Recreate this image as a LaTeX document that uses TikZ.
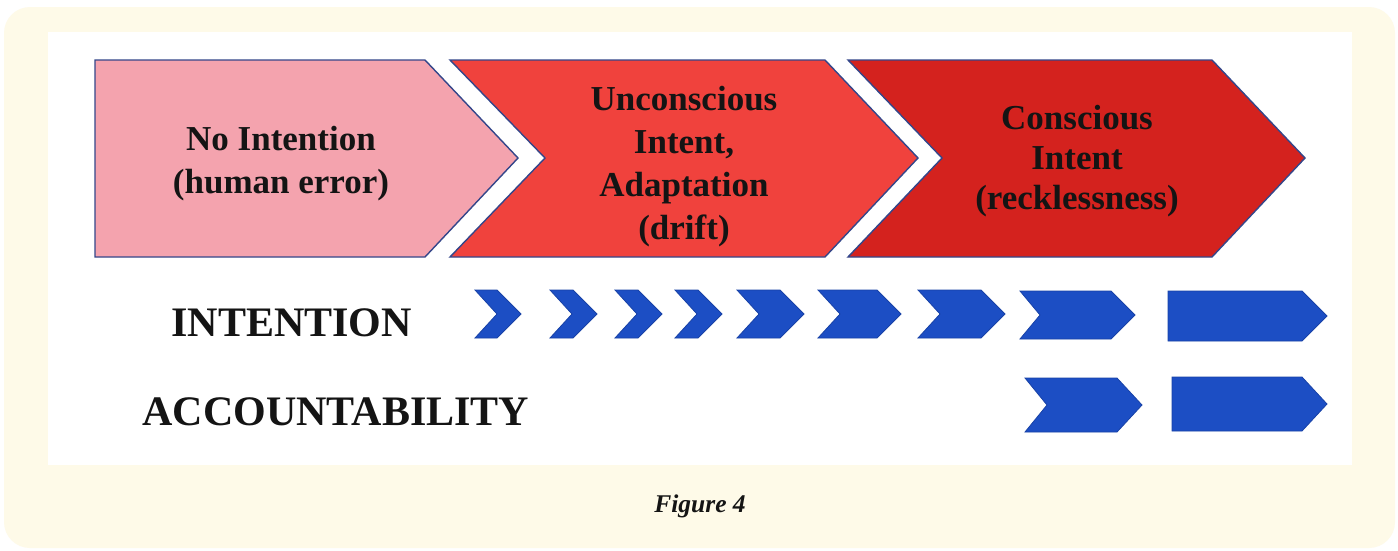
\documentclass[tikz,border=0pt]{standalone}
\usepackage{fontspec}
\setmainfont{Liberation Serif}
\definecolor{cream}{RGB}{254,250,232}
\definecolor{chevline}{RGB}{52,70,138}
\definecolor{pinkfill}{RGB}{244,163,174}
\definecolor{redfill}{RGB}{240,66,61}
\definecolor{darkred}{RGB}{212,34,30}
\definecolor{arrowblue}{RGB}{28,78,196}
\tikzset{
  chev/.style={draw=chevline, line width=1.4pt, line join=miter},
  bluearrow/.style={fill=arrowblue, draw=arrowblue!85!black, line width=0.8pt, line join=miter},
  stagetext/.style={font=\bfseries\fontsize{35}{43}\selectfont, align=center, text=black!92},
  rowlabel/.style={font=\bfseries\fontsize{42}{48}\selectfont, text=black!92, anchor=west},
}
% arrow: left x, tip x, centre y, half height, notch depth, point depth
\newcommand{\pointer}[6]{%
  \path[bluearrow] (#1,#3-#4) -- (#2-#6,#3-#4) -- (#2,#3) -- (#2-#6,#3+#4)
    -- (#1,#3+#4) -- (#1+#5,#3) -- cycle;}
\begin{document}
\begin{tikzpicture}[x=1pt,y=-1pt]
  \useasboundingbox[fill=white] (0,0) rectangle (1398,550);
  % page frame
  \fill[cream, rounded corners=26pt] (4,7) rectangle (1395,548);
  \fill[white] (48,32) rectangle (1352,465);

  % stage chevrons
  \path[chev, fill=pinkfill] (95,60) -- (425,60) -- (518,158) -- (425,257) -- (95,257) -- cycle;
  \path[chev, fill=redfill] (450,60) -- (825,60) -- (918,158) -- (825,257) -- (450,257) -- (545,158) -- cycle;
  \path[chev, fill=darkred] (848,60) -- (1212,60) -- (1305,158) -- (1212,257) -- (848,257) -- (942,158) -- cycle;

  \node[stagetext] (s1) at (281,164) {No Intention\\(human error)};
  \node[stagetext] (s2) at (684,167) {Unconscious\\Intent,\\Adaptation\\(drift)};
  \node[stagetext, font=\bfseries\fontsize{35}{40}\selectfont] (s3) at (1077,161) {Conscious\\Intent\\(recklessness)};

  % row labels
  \node[rowlabel] (intention) at (168,323) {INTENTION};
  \node[rowlabel] (account) at (139,412) {ACCOUNTABILITY};

  % intention row
  \pointer{475}{521}{314}{24}{22}{24}
  \pointer{550}{597}{314}{24}{22}{24}
  \pointer{615}{662}{314}{24}{22}{24}
  \pointer{675}{722}{314}{24}{22}{24}
  \pointer{737}{804}{314}{24}{22}{24}
  \pointer{818}{901}{314}{24}{22}{24}
  \pointer{918}{1005}{314}{24}{22}{24}
  \pointer{1020}{1135}{315}{24}{20}{24}
  \pointer{1168}{1327}{316}{25}{0}{25}

  % accountability row
  \pointer{1025}{1142}{405}{27}{22}{25}
  \pointer{1172}{1327}{404}{27}{0}{25}

  % caption
  \node[font=\bfseries\itshape\fontsize{25.5}{30}\selectfont, text=black!92] (cap) at (700,506) {Figure 4};
\end{tikzpicture}
\end{document}
